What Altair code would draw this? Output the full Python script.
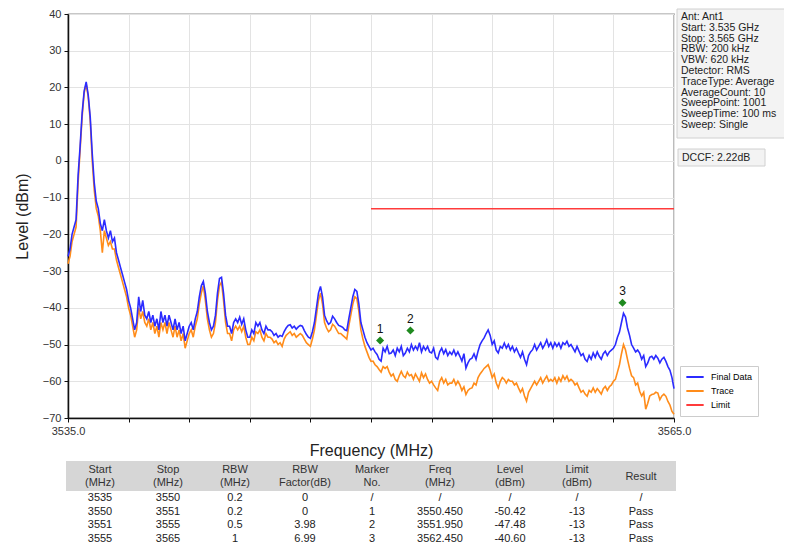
import altair as alt
import pandas as pd

# ---------------- data ----------------
FREQ_START = 3535.0
FREQ_STEP = 0.1

final_data = [
    -26, -24, -20, -18, -16, -4, 4, 13, 19, 21.5,
    18, 12, 2, -6, -11, -13, -17, -19, -16, -19,
    -21, -19, -22, -21, -25, -27, -29, -31, -33, -35,
    -38, -40, -43, -46, -44, -37, -41, -38, -42, -43,
    -41, -44, -42, -45, -43, -46, -41, -44, -42, -45,
    -42, -44, -46, -43, -46, -44, -47, -45, -49, -47,
    -45, -44, -46, -43, -41, -37, -34, -32.8, -36, -41,
    -44, -46, -45, -42, -36, -32, -31.7, -36, -42, -45,
    -45, -47, -44, -43, -44, -42.5, -44.5, -43, -46, -48,
    -48, -46, -47, -44, -45, -44, -46, -47, -45, -46,
    -46, -46.5, -47.5, -47, -48, -47.5, -47.8, -46.5, -45.5, -44.8,
    -44.6, -45.5, -45, -45.8, -45.2, -44.8, -45, -46.2, -47.2, -48,
    -48.3, -46.5, -44, -40, -36, -34.2, -37, -42, -43.5, -44.5,
    -44, -42.3, -43, -44, -44.8, -45, -45.3, -46, -46.2, -43,
    -40, -37, -35, -35.5, -39, -44, -46, -48, -49.5, -50.5,
    -51.5, -51, -52, -52.7, -54, -54.5, -51, -52, -50.5, -52.5,
    -52.3, -51.5, -53, -51, -52, -50.5, -53, -52.3, -51, -52,
    -50, -51.5, -50.5, -51.4, -49.5, -52, -50.5, -51.5, -50.5, -52,
    -52.3, -51, -53.5, -54, -52, -51, -52.5, -51.4, -53, -52,
    -52.7, -51.5, -53, -52, -53.2, -54.5, -52.5, -56.4, -55, -54,
    -53.7, -52.5, -54, -51.8, -50, -49, -48.2, -47, -46, -47.5,
    -50, -49, -51.5, -52.3, -50.5, -51, -49.6, -51, -50, -51.5,
    -50.5, -52, -51, -52.3, -53.5, -52, -54, -55.5, -53, -52,
    -51.4, -50, -51.5, -50.5, -49.5, -51, -50, -48.7, -50.5, -49.5,
    -51, -49.5, -50.5, -49.6, -51, -49.5, -50, -49.1, -50.5, -50,
    -51, -52, -50.5, -51.8, -53, -52.5, -54, -54.6, -53, -54,
    -52.3, -53.5, -52, -53.2, -54, -52.5, -51.8, -53, -52, -51.5,
    -51, -50, -48, -46.6, -44, -41.5, -42.5, -45.5, -47.5, -50,
    -51, -52, -51.5, -52.3, -54, -53, -56, -55, -53.5, -53.2,
    -54, -53, -53.7, -55, -54, -53.5, -54.6, -56, -57, -59,
    -62,
]

trace = [
    -28, -26, -22, -20, -18, -6, 3, 12, 18.5, 21,
    17.5, 11, 0, -8, -13, -15, -19, -25, -19, -21,
    -23, -22, -24, -24, -27, -29, -31, -33, -35, -37,
    -40, -42, -45, -48, -46, -40, -43, -41, -44, -45,
    -43, -46, -44, -47, -45, -48, -44, -46, -44, -47,
    -44, -46, -48, -45, -48, -46, -49, -47, -51, -49,
    -47, -46, -48, -45, -43, -39, -36, -34, -38, -43,
    -46, -48, -47, -44, -38, -34, -33, -38, -44, -47,
    -47, -49, -46, -45, -46, -45, -46.5, -45, -48, -50,
    -50, -48, -49, -46.5, -47, -46, -48, -49, -47, -48,
    -48, -48.5, -49.5, -49, -50, -49.5, -50.5, -48.5, -47.5, -47,
    -46.5, -47.5, -47, -48, -47.5, -47, -47.5, -48.5, -49.5, -50,
    -50.5, -48.5, -46, -42, -38, -36, -39, -44, -45.5, -46.5,
    -46, -44.5, -45, -46, -47, -47, -47.5, -48, -48.5, -45,
    -42, -39, -37, -37.5, -41, -46, -48.5, -50.5, -52, -53.5,
    -54.6, -54.5, -55.5, -56, -56.8, -57.5, -56, -56.5, -56, -57.5,
    -58.6, -58, -59.5, -60, -58.5, -57.3, -58.5, -59, -57.5, -58.5,
    -58.2, -59.5, -58, -59, -60, -57.7, -59, -58, -59.5, -60.5,
    -60, -61, -61.8, -62.5, -60, -59, -60.5, -59.5, -61, -60.5,
    -60.5, -59.5, -61, -60, -61, -62.5, -61.5, -63.6, -62.5, -62,
    -61.8, -60.5, -61, -59, -58, -57.3, -56.5, -56, -55.5, -57,
    -59, -58, -60.5, -61.8, -60, -59, -59.5, -60.5, -59.5, -60,
    -60, -61, -60.5, -61.8, -63, -62, -64, -65.4, -63, -62,
    -61, -60, -61, -60, -59, -60.5, -59.5, -58.6, -60, -59.5,
    -60, -59, -60.5, -59, -60, -58.5, -59.5, -58.6, -60, -59.5,
    -60, -61, -60.5, -61.8, -63, -62.5, -63.5, -64.1, -62.5, -63,
    -61.8, -63, -62, -62.7, -63.5, -62, -61.4, -62.5, -61.5, -61,
    -60, -59.5, -57.5, -55.5, -52.5, -50, -51.5, -54.1, -56.5, -58.5,
    -59, -61, -60.5, -62.7, -64, -63, -67.6, -66, -64, -63.6,
    -63.5, -63, -63.2, -65, -64, -63.5, -64.1, -65.5, -66.5, -68.2,
    -69,
]

limit_freq = [3550.0, 3565.0]
limit_level = [-13, -13]

marker_no = ["1", "2", "3"]
marker_freq = [3550.45, 3551.95, 3562.45]
marker_level = [-48.9, -46.2, -38.6]

info_lines = [
    "Ant: Ant1", "Start: 3.535 GHz", "Stop: 3.565 GHz", "RBW: 200 kHz",
    "VBW: 620 kHz", "Detector: RMS", "TraceType: Average", "AverageCount: 10",
    "SweepPoint: 1001", "SweepTime: 100 ms", "Sweep: Single",
]
dccf_text = "DCCF: 2.22dB"

table_header = ["Start\n(MHz)", "Stop\n(MHz)", "RBW\n(MHz)", "RBW\nFactor(dB)",
                "Marker\nNo.", "Freq\n(MHz)", "Level\n(dBm)", "Limit\n(dBm)", "Result"]
table_rows = [
    ["3535", "3550", "0.2", "0", "/", "/", "/", "/", "/"],
    ["3550", "3551", "0.2", "0", "1", "3550.450", "-50.42", "-13", "Pass"],
    ["3551", "3555", "0.5", "3.98", "2", "3551.950", "-47.48", "-13", "Pass"],
    ["3555", "3565", "1", "6.99", "3", "3562.450", "-40.60", "-13", "Pass"],
]

series_names = ["Final Data", "Trace", "Limit"]
series_colors = ["#2b2bff", "#ff8c1a", "#ff3b3b"]

# ---------------- layout constants ----------------
W, H = 606, 404
FONT = "Liberation Sans"
col_x = [32, 100, 167, 237, 304, 372, 442, 509, 573]   # table column centres (px from plot left)
header_y_two, header_y_one = 456, 462.5
row_y0, row_dy = 484, 13.5
info_x, info_y0, info_dy = 613, 3, 10.8

freqs = [round(FREQ_START + i * FREQ_STEP, 1) for i in range(len(final_data))]

df_final = pd.DataFrame({"freq": freqs, "level": final_data, "series": "Final Data"})
df_trace = pd.DataFrame({"freq": freqs, "level": trace, "series": "Trace"})
df_limit = pd.DataFrame({"freq": limit_freq, "level": limit_level, "series": "Limit"})
df_mark = pd.DataFrame({"freq": marker_freq, "level": marker_level, "no": marker_no})

color_scale = alt.Scale(domain=series_names, range=series_colors)

x_enc = alt.X("freq:Q", scale=alt.Scale(domain=[3535, 3565], nice=False, zero=False),
              axis=alt.Axis(values=list(range(3535, 3566, 3)), tickCount=20,
                            labelExpr="(datum.value == 3535 || datum.value == 3565) ? format(datum.value, '.1f') : ''",
                            title="Frequency (MHz)", titleFontSize=16, titleFontWeight="normal",
                            titlePadding=6, labelFontSize=11, tickSize=4, labelPadding=3,
                            labelFlush=False, labelOverlap=False))
y_enc = alt.Y("level:Q", scale=alt.Scale(domain=[-70, 40], nice=False, zero=False),
              axis=alt.Axis(values=list(range(-70, 41, 10)), tickCount=20, title="Level (dBm)",
                            titleFontSize=16, titleFontWeight="normal", titlePadding=12,
                            labelFontSize=11, tickSize=4, labelPadding=3, labelOverlap=False))

color_enc = alt.Color("series:N", scale=color_scale,
                      legend=alt.Legend(title=None, orient="none", legendX=612, legendY=352,
                                        symbolType="stroke", symbolSize=300, symbolStrokeWidth=2,
                                        labelFontSize=9, labelFont=FONT, padding=5, rowPadding=2,
                                        clipHeight=12,
                                        fillColor="white", strokeColor="#cccccc",
                                        labelOffset=6, symbolOffset=0))

line_orange = alt.Chart(df_trace).mark_line(strokeWidth=1.6).encode(x=x_enc, y=y_enc, color=color_enc)
line_blue = alt.Chart(df_final).mark_line(strokeWidth=1.6).encode(x=x_enc, y=y_enc, color=color_enc)
line_limit = alt.Chart(df_limit).mark_line(strokeWidth=1.5).encode(x=x_enc, y=y_enc, color=color_enc)

markers = alt.Chart(df_mark).mark_point(shape="diamond", filled=True, size=65, opacity=1,
                                        color="#1f8a1f").encode(x=x_enc, y=y_enc)
marker_labels = alt.Chart(df_mark).mark_text(dy=-12, fontSize=12, font=FONT, color="#111").encode(
    x=x_enc, y=y_enc, text="no:N")

# info box
df_info = pd.DataFrame({"t": info_lines, "px": info_x,
                        "py": [info_y0 + i * info_dy for i in range(len(info_lines))]})
info_box = alt.Chart(pd.DataFrame({"a": [0]})).mark_rect(fill="#f3f3f3", stroke="#d0d0d0").encode(
    x=alt.value(609), x2=alt.value(740), y=alt.value(-5), y2=alt.value(124))
info_text = alt.Chart(df_info).mark_text(align="left", baseline="middle", fontSize=10.5, font=FONT,
                                         color="#222").encode(
    x=alt.X("px:Q", scale=None), y=alt.Y("py:Q", scale=None), text="t:N")
dccf_box = alt.Chart(pd.DataFrame({"a": [0]})).mark_rect(fill="#f3f3f3", stroke="#d0d0d0").encode(
    x=alt.value(610), x2=alt.value(697), y=alt.value(135), y2=alt.value(152))
dccf = alt.Chart(pd.DataFrame({"t": [dccf_text]})).mark_text(align="left", baseline="middle",
                                                              fontSize=10.5, font=FONT, color="#222").encode(
    x=alt.value(614), y=alt.value(143.5), text="t:N")

# table
header_band = alt.Chart(pd.DataFrame({"a": [0]})).mark_rect(fill="#d6d6d6").encode(
    x=alt.value(-2), x2=alt.value(608), y=alt.value(447), y2=alt.value(477))
df_head = pd.DataFrame({"t": table_header, "px": col_x,
                        "py": [header_y_two if "\n" in h else header_y_one for h in table_header]})
head_text = alt.Chart(df_head).mark_text(baseline="middle", fontSize=11, font=FONT, color="#333",
                                         lineBreak="\n", lineHeight=13).encode(
    x=alt.X("px:Q", scale=None), y=alt.Y("py:Q", scale=None), text="t:N")
cells = []
for r, row in enumerate(table_rows):
    for c, val in enumerate(row):
        cells.append({"t": val, "px": col_x[c], "py": row_y0 + r * row_dy})
df_cells = pd.DataFrame(cells)
cell_text = alt.Chart(df_cells).mark_text(baseline="middle", fontSize=11, font=FONT, color="#222").encode(
    x=alt.X("px:Q", scale=None), y=alt.Y("py:Q", scale=None), text="t:N")

chart = alt.layer(
    line_orange, line_blue, line_limit, markers, marker_labels,
    info_box, info_text, dccf_box, dccf,
    header_band, head_text, cell_text,
).properties(
    width=W, height=H,
    autosize=alt.AutoSizeParams(type="none"),
    padding={"left": 60, "top": 6, "right": 110, "bottom": 128},
).configure_view(
    stroke="#222", strokeWidth=1.2
).configure_axis(
    labelFont=FONT, titleFont=FONT, labelColor="#333", titleColor="#222",
    domainColor="#111", domainWidth=1.5, tickColor="#111",
    gridColor="#e3e3e3", gridWidth=1
)

chart.save("out.html", embed_options={"renderer": "svg", "actions": False})
